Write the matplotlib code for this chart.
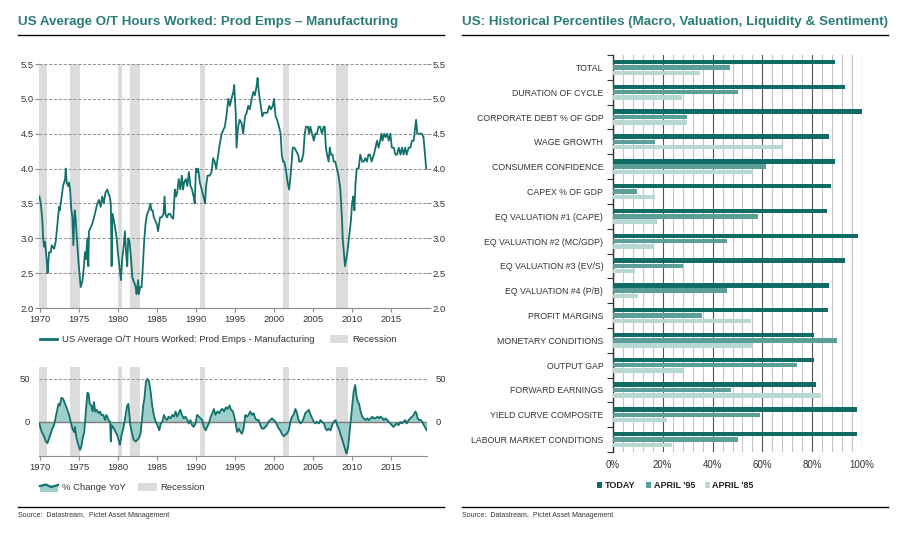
import numpy as np
import matplotlib.pyplot as plt
from matplotlib.lines import Line2D
from matplotlib.patches import Rectangle
from matplotlib.ticker import MultipleLocator, FixedLocator

plt.rcParams['font.family'] = ['Liberation Sans', 'DejaVu Sans']
narrow = ['Liberation Sans Narrow', 'Liberation Sans', 'DejaVu Sans']

# ---- data: overtime hours (level) ----
ot_year = [1969.95, 1970.13, 1970.34, 1970.43, 1970.55, 1970.68, 1970.9, 1971.0, 1971.19, 1971.41,
           1971.53, 1971.83, 1972.04, 1972.26, 1972.47, 1972.55, 1972.81, 1972.98, 1973.24, 1973.33,
           1973.45, 1973.62, 1973.75, 1973.88, 1974.05, 1974.18, 1974.3, 1974.47, 1974.6, 1974.75,
           1975.0, 1975.24, 1975.45, 1975.66, 1975.78, 1975.9, 1976.1, 1976.22, 1976.3, 1976.5,
           1976.7, 1976.95, 1977.16, 1977.37, 1977.58, 1977.8, 1978.0, 1978.2, 1978.4, 1978.65,
           1978.78, 1978.95, 1979.1, 1979.2, 1979.3, 1979.5, 1979.72, 1979.85, 1980.0, 1980.2,
           1980.4, 1980.55, 1980.76, 1980.9, 1981.05, 1981.2, 1981.33, 1981.5, 1981.7, 1981.84,
           1981.97, 1982.15, 1982.28, 1982.4, 1982.5, 1982.6, 1982.7, 1982.85, 1983.04, 1983.2,
           1983.37, 1983.54, 1983.75, 1983.96, 1984.17, 1984.3, 1984.47, 1984.6, 1984.8, 1985.0,
           1985.15, 1985.4, 1985.6, 1985.85, 1985.98, 1986.1, 1986.3, 1986.5, 1986.7, 1986.9,
           1987.1, 1987.3, 1987.45, 1987.6, 1987.8, 1988.0, 1988.2, 1988.35, 1988.5, 1988.7,
           1988.9, 1989.1, 1989.3, 1989.5, 1989.7, 1989.85, 1990.0, 1990.2, 1990.3, 1990.5,
           1990.75, 1990.96, 1991.17, 1991.3, 1991.5, 1991.8, 1992.0, 1992.2, 1992.4, 1992.6,
           1992.85, 1993.05, 1993.3, 1993.5, 1993.7, 1993.9, 1994.15, 1994.35, 1994.55, 1994.8,
           1994.9, 1995.1, 1995.2, 1995.4, 1995.6, 1995.85, 1996.05, 1996.3, 1996.5, 1996.7,
           1996.9, 1997.15, 1997.35, 1997.55, 1997.8, 1997.9, 1998.05, 1998.3, 1998.5, 1998.7,
           1998.95, 1999.15, 1999.4, 1999.6, 1999.85, 2000.0, 2000.2, 2000.4, 2000.65, 2000.85,
           2001.0, 2001.15, 2001.3, 2001.5, 2001.75, 2001.95, 2002.2, 2002.4, 2002.6, 2002.85,
           2003.08, 2003.25, 2003.5, 2003.75, 2003.94, 2004.1, 2004.36, 2004.5, 2004.65, 2004.87,
           2005.1, 2005.3, 2005.5, 2005.7, 2005.9, 2006.15, 2006.35, 2006.5, 2006.65, 2006.8,
           2007.0, 2007.15, 2007.3, 2007.5, 2007.65, 2007.85, 2008.05, 2008.26, 2008.5, 2008.62,
           2008.7, 2008.8, 2008.95, 2009.1, 2009.25, 2009.4, 2009.6, 2009.85, 2010.0, 2010.15,
           2010.3, 2010.45, 2010.6, 2010.85, 2011.05, 2011.3, 2011.5, 2011.7, 2011.9, 2012.1,
           2012.3, 2012.5, 2012.8, 2013.0, 2013.2, 2013.4, 2013.6, 2013.75, 2013.9, 2014.1,
           2014.3, 2014.5, 2014.7, 2014.9, 2015.1, 2015.35, 2015.55, 2015.77, 2015.98, 2016.2,
           2016.4, 2016.6, 2016.8, 2017.0, 2017.25, 2017.47, 2017.68, 2017.9, 2018.0, 2018.2,
           2018.35, 2018.5, 2018.75, 2018.95, 2019.15, 2019.35, 2019.5]
ot_hours = [3.6, 3.5, 3.24, 3.0, 2.88, 2.95, 2.66, 2.5, 2.8, 2.8,
            2.9, 2.85, 2.95, 3.2, 3.45, 3.4, 3.6, 3.75, 3.85, 4.0,
            3.8, 3.75, 3.8, 3.7, 3.4, 3.3, 2.9, 3.4, 3.28, 3.0,
            2.6, 2.3, 2.38, 2.6, 2.8, 2.7, 3.0, 2.6, 3.1, 3.15,
            3.2, 3.3, 3.4, 3.5, 3.55, 3.45, 3.6, 3.5, 3.65, 3.7,
            3.65, 3.6, 3.5, 2.6, 3.35, 3.25, 3.1, 3.0, 2.8, 2.6,
            2.4, 2.7, 2.9, 3.1, 2.8, 2.6, 3.0, 2.95, 2.7, 2.45,
            2.4, 2.35, 2.3, 2.2, 2.3, 2.4, 2.2, 2.3, 2.3, 2.6,
            2.95, 3.2, 3.35, 3.4, 3.5, 3.4, 3.4, 3.3, 3.25, 3.2,
            3.1, 3.3, 3.3, 3.35, 3.6, 3.35, 3.3, 3.35, 3.35, 3.3,
            3.28, 3.7, 3.6, 3.65, 3.85, 3.7, 3.9, 3.7, 3.8, 3.85,
            3.75, 3.95, 3.75, 3.7, 3.6, 3.5, 4.0, 3.95, 4.0, 3.8,
            3.7, 3.6, 3.5, 3.75, 3.9, 3.9, 3.95, 4.15, 4.1, 4.0,
            4.2, 4.35, 4.5, 4.55, 4.6, 4.75, 5.0, 4.9, 5.0, 5.1,
            5.2, 4.8, 4.3, 4.6, 4.7, 4.65, 4.5, 4.75, 4.8, 4.9,
            4.85, 5.0, 5.1, 5.05, 5.2, 5.3, 5.1, 4.9, 4.75, 4.8,
            4.8, 4.8, 4.9, 4.85, 4.9, 5.0, 4.75, 4.7, 4.6, 4.5,
            4.2, 4.1, 4.1, 4.0, 3.8, 3.7, 4.0, 4.3, 4.3, 4.25,
            4.2, 4.1, 4.1, 4.2, 4.5, 4.6, 4.6, 4.5, 4.6, 4.5,
            4.4, 4.5, 4.5, 4.6, 4.6, 4.5, 4.6, 4.6, 4.3, 4.2,
            4.1, 4.3, 4.2, 4.2, 4.1, 4.1, 4.0, 3.9, 3.7, 3.45,
            3.3, 3.0, 2.8, 2.6, 2.7, 2.8, 3.0, 3.25, 3.5, 3.6,
            3.4, 3.8, 4.0, 4.0, 4.2, 4.1, 4.1, 4.15, 4.1, 4.2,
            4.2, 4.1, 4.2, 4.3, 4.4, 4.3, 4.4, 4.5, 4.4, 4.5,
            4.45, 4.5, 4.4, 4.5, 4.3, 4.3, 4.2, 4.2, 4.3, 4.2,
            4.3, 4.2, 4.3, 4.2, 4.3, 4.3, 4.4, 4.4, 4.5, 4.7,
            4.5, 4.5, 4.5, 4.5, 4.45, 4.2, 4.0]

# ---- data: % change YoY ----
yoy_year = [1969.95, 1970.05, 1970.25, 1970.55, 1970.77, 1970.98, 1971.2, 1971.4, 1971.6, 1971.83,
            1972.05, 1972.26, 1972.4, 1972.56, 1972.77, 1972.98, 1973.24, 1973.54, 1973.75, 1973.96,
            1974.18, 1974.4, 1974.5, 1974.7, 1974.94, 1975.15, 1975.32, 1975.5, 1975.7, 1975.9,
            1976.1, 1976.25, 1976.4, 1976.6, 1976.77, 1976.94, 1977.1, 1977.3, 1977.5, 1977.7,
            1977.9, 1978.15, 1978.35, 1978.55, 1978.8, 1979.0, 1979.1, 1979.2, 1979.5, 1979.7,
            1979.9, 1980.15, 1980.25, 1980.4, 1980.5, 1980.7, 1980.85, 1981.0, 1981.2, 1981.35,
            1981.5, 1981.6, 1981.85, 1982.0, 1982.3, 1982.5, 1982.7, 1982.9, 1983.1, 1983.25,
            1983.4, 1983.6, 1983.8, 1984.0, 1984.2, 1984.4, 1984.6, 1984.85, 1985.05, 1985.3,
            1985.5, 1985.7, 1985.9, 1986.1, 1986.3, 1986.5, 1986.75, 1987.0, 1987.2, 1987.4,
            1987.6, 1987.8, 1988.0, 1988.2, 1988.45, 1988.65, 1988.9, 1989.1, 1989.3, 1989.5,
            1989.7, 1989.95, 1990.15, 1990.4, 1990.6, 1990.8, 1991.0, 1991.25, 1991.45, 1991.65,
            1991.9, 1992.1, 1992.3, 1992.5, 1992.75, 1993.0, 1993.2, 1993.4, 1993.6, 1993.85,
            1994.05, 1994.3, 1994.5, 1994.75, 1995.06, 1995.27, 1995.49, 1995.7, 1995.9, 1996.1,
            1996.33, 1996.55, 1996.75, 1996.97, 1997.2, 1997.4, 1997.6, 1997.8, 1998.05, 1998.25,
            1998.45, 1998.7, 1998.9, 1999.1, 1999.3, 1999.5, 1999.75, 1999.97, 2000.2, 2000.4,
            2000.6, 2000.8, 2001.0, 2001.25, 2001.45, 2001.65, 2001.9, 2002.1, 2002.3, 2002.5,
            2002.75, 2002.95, 2003.15, 2003.4, 2003.6, 2003.8, 2004.0, 2004.25, 2004.45, 2004.7,
            2004.9, 2005.1, 2005.3, 2005.5, 2005.75, 2005.95, 2006.15, 2006.4, 2006.6, 2006.8,
            2007.0, 2007.25, 2007.45, 2007.65, 2007.9, 2008.1, 2008.3, 2008.5, 2008.75, 2009.0,
            2009.2, 2009.3, 2009.5, 2009.65, 2009.8, 2010.0, 2010.2, 2010.4, 2010.55, 2010.75,
            2010.9, 2011.1, 2011.3, 2011.5, 2011.75, 2011.95, 2012.15, 2012.4, 2012.6, 2012.8,
            2013.0, 2013.25, 2013.45, 2013.65, 2013.9, 2014.1, 2014.3, 2014.5, 2014.7, 2014.9,
            2015.1, 2015.3, 2015.5, 2015.75, 2015.95, 2016.2, 2016.4, 2016.6, 2016.8, 2017.0,
            2017.25, 2017.45, 2017.7, 2017.9, 2018.1, 2018.25, 2018.4, 2018.6, 2018.8, 2019.0,
            2019.2, 2019.45, 2019.55]
yoy_pct = [-2, -6, -12, -17, -23, -25, -19, -14, -8, -4,
           6, 15, 21, 19, 28, 27, 21, 14, 8, 0,
           -8, -12, -6, -19, -27, -33, -29, -19, -12, 12,
           34, 33, 21, 19, 12, 23, 12, 14, 10, 12,
           8, 8, 2, 8, 2, 0, -23, -4, -8, -12,
           -15, -23, -27, -19, -14, -8, 0, 8, 19, 21,
           6, -4, -15, -21, -23, -21, -19, -14, 4, 19,
           27, 47, 50, 47, 35, 19, 8, 0, -4, -10,
           -2, 0, 8, 4, 2, 6, 4, 8, 6, 12,
           6, 10, 14, 8, 4, 6, 2, -2, 2, -4,
           -6, -2, 8, 6, 4, 2, -6, -10, -6, -2,
           6, 10, 15, 8, 12, 10, 14, 15, 12, 17,
           15, 19, 14, 12, 0, -12, -8, -12, -14, -8,
           8, 6, 8, 12, 8, 10, 4, 2, 2, -4,
           -8, -8, -6, -4, 0, 2, 4, 2, 0, -4,
           -8, -10, -14, -17, -15, -14, -10, 0, 6, 8,
           15, 10, 2, -2, 0, 4, 10, 12, 14, 8,
           4, 0, -2, 0, -2, 2, 0, -2, -8, -10,
           -8, -10, -4, 0, 2, -4, -8, -14, -21, -29,
           -35, -37, -29, -15, 0, 19, 35, 43, 31, 23,
           21, 12, 6, 4, 2, 4, 2, 4, 6, 4,
           4, 6, 4, 6, 4, 2, 4, 2, 0, -2,
           -4, -6, -4, -2, -4, 0, -2, 0, 2, -2,
           2, 4, 6, 8, 12, 10, 4, 2, 2, 0,
           -4, -8, -10]

rec_start = [1969.92, 1973.87, 1980.0, 1981.5, 1990.55, 2001.2, 2007.92]
rec_end = [1970.87, 1975.2, 1980.5, 1982.87, 1991.2, 2001.87, 2009.5]

# ---- data: historical percentiles ----
categories = ['TOTAL', 'DURATION OF CYCLE', 'CORPORATE DEBT % OF GDP', 'WAGE GROWTH',
              'CONSUMER CONFIDENCE', 'CAPEX % OF GDP', 'EQ VALUATION #1 (CAPE)',
              'EQ VALUATION #2 (MC/GDP)', 'EQ VALUATION #3 (EV/S)', 'EQ VALUATION #4 (P/B)',
              'PROFIT MARGINS', 'MONETARY CONDITIONS', 'OUTPUT GAP', 'FORWARD EARNINGS',
              'YIELD CURVE COMPOSITE', 'LABOUR MARKET CONDITIONS']
today = [89.3, 93.0, 100.0, 86.6, 89.0, 87.4, 85.8, 98.3, 93.0, 86.6, 86.2, 80.6, 80.6, 81.4, 97.9, 97.9]
april95 = [46.9, 50.1, 29.9, 16.7, 61.3, 9.5, 58.1, 45.6, 28.2, 45.6, 35.7, 89.8, 73.8, 47.3, 58.9, 50.1]
april85 = [34.8, 27.6, 29.9, 67.9, 56.4, 17.0, 17.5, 16.2, 9.0, 10.2, 55.3, 56.0, 28.2, 83.4, 21.8, 23.6]
series_names = ['TODAY', "APRIL '95", "APRIL '85"]

TEAL = '#13716b'
TITLE_C = '#2b7c78'
REC_C = '#dcdcdc'
BAR_C = ['#106b64', '#5c9f99', '#b8d8d4']
W, H = 904, 539


def fx(x):
    return x / W


def fy(y):
    return 1 - y / H


fig = plt.figure(figsize=(9.04, 5.39), dpi=100)

# titles and rules
fig.text(fx(18), fy(22), 'US Average O/T Hours Worked: Prod Emps \u2013 Manufacturing',
         color=TITLE_C, fontsize=9.6, fontweight='bold', va='center', ha='left')
fig.text(fx(462), fy(22), 'US: Historical Percentiles (Macro, Valuation, Liquidity & Sentiment)',
         color=TITLE_C, fontsize=9.6, fontweight='bold', va='center', ha='left')
for x0, x1 in [(18, 444), (462, 888)]:
    fig.add_artist(Line2D([fx(x0), fx(x1)], [fy(35), fy(35)], color='black', lw=1.0))
    fig.add_artist(Line2D([fx(x0), fx(x1)], [fy(507), fy(507)], color='black', lw=1.0))
    fig.text(fx(x0), fy(515.5), 'Source:  Datastream,  Pictet Asset Management',
             fontsize=5, color='#333333', va='center', ha='left')

# ---- top left: level ----
ax1 = fig.add_axes([fx(39), fy(308), fx(427 - 39), (308 - 64) / H])
for s, e in zip(rec_start, rec_end):
    ax1.axvspan(s, e, color=REC_C, lw=0, zorder=0)
ax1.plot(ot_year, ot_hours, color=TEAL, lw=1.3, zorder=3)
ax1.set_xlim(1969.9, 2019.6)
ax1.set_ylim(2.0, 5.5)
ax1.yaxis.set_major_locator(MultipleLocator(0.5))
ax1.xaxis.set_major_locator(FixedLocator(range(1970, 2016, 5)))
ax1.grid(axis='y', ls=(0, (3, 2)), color='#8c8c8c', lw=0.7)
ax1.set_axisbelow(True)
for sp in ['top', 'left', 'right']:
    ax1.spines[sp].set_visible(False)
ax1.spines['bottom'].set_color('#8c8c8c')
ax1.tick_params(axis='y', left=True, right=True, labelleft=True, labelright=True,
                length=3, color='#8c8c8c', labelsize=6.8, labelcolor='#333333', pad=1)
ax1.tick_params(axis='x', length=3, color='#8c8c8c', labelsize=6.8, labelcolor='#333333', pad=2)
ax1.yaxis.set_major_formatter(plt.FuncFormatter(lambda v, p: f'{v:.1f}'))
for lab in ax1.get_xticklabels() + ax1.get_yticklabels():
    lab.set_family(narrow)

# top legend
fig.add_artist(Line2D([fx(40), fx(57)], [fy(339), fy(339)], color=TEAL, lw=2))
fig.text(fx(62), fy(339), 'US Average O/T Hours Worked: Prod Emps - Manufacturing',
         family=narrow, fontsize=6.8, color='#333333', va='center')
fig.add_artist(Rectangle((fx(330), fy(343)), fx(18), 8 / H, color=REC_C, lw=0))
fig.text(fx(352), fy(339), 'Recession', family=narrow, fontsize=6.8, color='#333333', va='center')

# ---- bottom left: yoy ----
ax2 = fig.add_axes([fx(39), fy(456), fx(427 - 39), (456 - 367) / H])
for s, e in zip(rec_start, rec_end):
    ax2.axvspan(s, e, color=REC_C, lw=0, zorder=0)
ax2.fill_between(yoy_year, yoy_pct, 0, color='#9fcfca', lw=0, zorder=2)
ax2.axhline(0, color='#7a7a7a', lw=1.0, zorder=2.5)
ax2.plot(yoy_year, yoy_pct, color=TEAL, lw=1.3, zorder=3)
ax2.set_xlim(1969.9, 2019.6)
ax2.set_ylim(-40, 64)
ax2.yaxis.set_major_locator(FixedLocator([0, 50]))
ax2.xaxis.set_major_locator(FixedLocator(range(1970, 2016, 5)))
ax2.axhline(50, ls=(0, (3, 2)), color='#8c8c8c', lw=0.7, zorder=1)
for sp in ['top', 'left', 'right']:
    ax2.spines[sp].set_visible(False)
ax2.spines['bottom'].set_color('#8c8c8c')
ax2.tick_params(axis='y', left=False, right=False, labelleft=True, labelright=True,
                labelsize=6.8, labelcolor='#333333', pad=3)
ax2.tick_params(axis='x', length=3, color='#8c8c8c', labelsize=6.8, labelcolor='#333333', pad=2)
for lab in ax2.get_xticklabels() + ax2.get_yticklabels():
    lab.set_family(narrow)

# bottom legend
fig.add_artist(Rectangle((fx(40), fy(492)), fx(18), 6 / H, color='#9fcfca', lw=0))
fig.add_artist(Line2D([fx(40), fx(46), fx(51), fx(58)], [fy(486), fy(484.5), fy(487), fy(485)],
                      color=TEAL, lw=1.6))
fig.text(fx(62), fy(487), '% Change YoY', family=narrow, fontsize=6.8, color='#333333', va='center')
fig.add_artist(Rectangle((fx(138), fy(491)), fx(19), 8 / H, color=REC_C, lw=0))
fig.text(fx(160), fy(487), 'Recession', family=narrow, fontsize=6.8, color='#333333', va='center')

# ---- right: percentiles ----
ax3 = fig.add_axes([fx(613), fy(452), fx(862 - 613), (452 - 55) / H])
pos = np.arange(len(categories))
offsets = [-0.215, 0.0, 0.215]
for vals, off, col, name in zip([today, april95, april85], offsets, BAR_C, series_names):
    ax3.barh(pos + off, vals, height=0.18, color=col, label=name, zorder=3)
ax3.set_ylim(len(categories) - 0.5, -0.5)
ax3.set_xlim(0, 100)
ax3.set_yticks(pos)
ax3.set_yticklabels(categories)
ax3.yaxis.set_minor_locator(FixedLocator(np.arange(-0.5, len(categories), 1.0)))
ax3.tick_params(axis='y', which='major', length=0, pad=7, labelsize=6.3, labelcolor='#333333')
ax3.tick_params(axis='y', which='minor', length=4, width=0.8, color='#333333')
ax3.set_xticks(np.arange(0, 101, 20))
ax3.set_xticklabels([f'{v}%' for v in range(0, 101, 20)])
ax3.xaxis.set_minor_locator(MultipleLocator(4))
ax3.tick_params(axis='x', which='both', length=0, pad=6, labelsize=7, labelcolor='#333333')
ax3.grid(axis='x', which='minor', color='#c4c4c4', lw=0.8, zorder=0)
ax3.grid(axis='x', which='major', color='#555555', lw=0.8, zorder=0)
ax3.set_axisbelow(True)
for sp in ['top', 'right', 'bottom']:
    ax3.spines[sp].set_visible(False)
ax3.spines['left'].set_color('#333333')
ax3.spines['left'].set_linewidth(1.0)

# right legend
for xs, xt, col, name in zip([596.5, 646, 705], [604.5, 654, 712.5], BAR_C, series_names):
    fig.add_artist(Rectangle((fx(xs), fy(488)), fx(5.5), 6 / H, color=col, lw=0))
    fig.text(fx(xt), fy(485), name, fontsize=6.5, fontweight='bold', color='#222222', va='center')

fig.savefig('out.png', dpi=100)
